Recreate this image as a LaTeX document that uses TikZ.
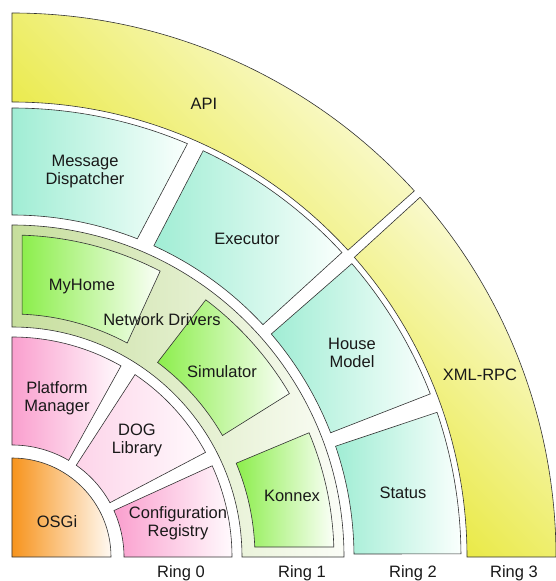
\documentclass[tikz,border=0pt]{standalone}
\usepackage{fontspec}
\setmainfont{Liberation Sans}
\definecolor{orgC}{HTML}{F7941D}
\definecolor{orgL}{HTML}{FFF9F2}
\definecolor{pnkC}{HTML}{FA9FCE}
\definecolor{pnkL}{HTML}{FFFAFD}
\definecolor{olvC}{HTML}{C6DE9C}
\definecolor{olvL}{HTML}{FBFDF7}
\definecolor{grnC}{HTML}{8CEE4C}
\definecolor{grnL}{HTML}{FBFFF8}
\definecolor{mntC}{HTML}{A0EDD4}
\definecolor{mntL}{HTML}{FAFFFD}
\definecolor{yelC}{HTML}{E8E83A}
\definecolor{yelL}{HTML}{FCFCE2}
\definecolor{lineC}{HTML}{333333}
% #1 style, #2 inner r, #3 outer r, #4 start angle inner, #5 start angle outer, #6 end angle inner, #7 end angle outer
\newcommand\annsec[7]{%
  \path[#1] (#4:#2pt) -- (#5:#3pt) arc[start angle=#5, end angle=#7, radius=#3pt]
    -- (#6:#2pt) arc[start angle=#6, end angle=#4, radius=#2pt] -- cycle;}
\begin{document}
\begin{tikzpicture}[x=1pt,y=1pt,
  seg/.style={draw=lineC, line width=0.6pt},
  orgfill/.style={seg, left color=orgC, right color=orgL},
  pnkfill/.style={seg, left color=pnkC, right color=pnkL},
  pnklite/.style={seg, left color=pnkC!45, right color=pnkL},
  olvfill/.style={seg, left color=olvC, right color=olvL},
  grnfill/.style={seg, left color=grnC, right color=grnL},
  mntfill/.style={seg, left color=mntC, right color=mntL},
  yelfill/.style={seg, bottom color=yelC, top color=yelL, shading angle=-45},
  lbl/.style={font=\fontsize{16.5}{18}\selectfont, align=center, inner sep=0pt, text=black!90},
]
\useasboundingbox (-12,-24) rectangle (543,557);

% Ring 3
\annsec{yelfill}{455}{544}{0}{0}{41.2}{41.4}
\annsec{yelfill}{455}{544}{42.4}{42.3}{90}{90}
% Ring 2
\annsec{mntfill}{342}{449}{0.5}{0.4}{18.9}{18.8}
\annsec{mntfill}{342}{449}{21.3}{21.3}{40.7}{40.8}
\annsec{mntfill}{342}{449}{42.8}{42.7}{65.5}{64.8}
\annsec{mntfill}{342}{449}{68.5}{67}{90}{90}
% Ring 1
\annsec{olvfill}{230}{332}{0}{0}{90}{90}
\annsec{grnfill}{243}{322}{2.36}{1.78}{22.7}{22.7}
\annsec{grnfill}{243}{322}{30}{30.5}{53.2}{53}
\annsec{grnfill}{243}{322}{61.7}{62.6}{87.6}{88.2}
% Ring 0
\annsec{pnkfill}{112}{220}{0}{0}{24.5}{24.5}
\annsec{pnklite}{112}{220}{29}{28.4}{55}{56}
\annsec{pnkfill}{112}{220}{59.6}{60.3}{90}{90}
% Core
\path[orgfill] (0,0) -- (0:99pt) arc[start angle=0, end angle=90, radius=99pt] -- cycle;

% Labels
\node[lbl] (api) at (192,453) {API};
\node[lbl] (xmlrpc) at (468,182) {XML-RPC};
\node[lbl] (msg) at (73,385) {Message\\Dispatcher};
\node[lbl] (exec) at (235,318) {Executor};
\node[lbl] (house) at (340,204) {House\\Model};
\node[lbl] (status) at (391,64) {Status};
\node[lbl] (myhome) at (70,270) {MyHome};
\node[lbl] (netdrv) at (150,237) {Network Drivers};
\node[lbl] (sim) at (210,185) {Simulator};
\node[lbl] (konnex) at (280,61) {Konnex};
\node[lbl] (platform) at (45,159) {Platform\\Manager};
\node[lbl] (dog) at (125,117) {DOG\\Library};
\node[lbl] (config) at (166,34) {Configuration\\Registry};
\node[lbl] (osgi) at (45,35) {OSGi};
\node[lbl, anchor=base] (r0) at (169,-20) {Ring 0};
\node[lbl, anchor=base] (r1) at (290,-20) {Ring 1};
\node[lbl, anchor=base] (r2) at (401,-20) {Ring 2};
\node[lbl, anchor=base] (r3) at (502,-20) {Ring 3};
\end{tikzpicture}
\end{document}
